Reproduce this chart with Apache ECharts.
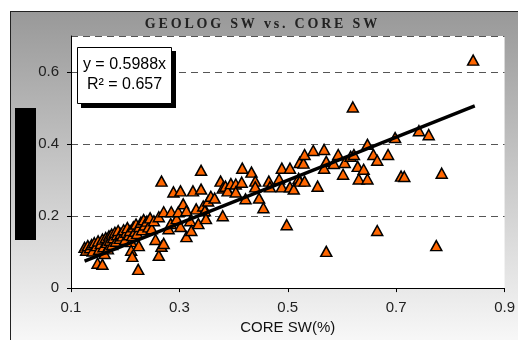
<!DOCTYPE html>
<html>
<head>
<meta charset="utf-8">
<script src="https://cdn.jsdelivr.net/npm/echarts@6/dist/echarts.min.js"></script>
<style>
html,body{margin:0;padding:0;background:#fff;overflow:hidden;}
#wrap{position:relative;width:518px;height:340px;overflow:hidden;background:#fff;}
#frame{position:absolute;left:10px;top:11px;width:540px;height:360px;border:1.5px solid #222;background:linear-gradient(to bottom,#999999 0px,#f8f8f8 330px);}
#chart{position:absolute;left:0;top:0;width:518px;height:340px;}
</style>
</head>
<body>
<div id="wrap"><div id="frame"></div><div id="chart"></div></div>
<script>
// CORE SW (x) and GEOLOG SW (y)
var coreSW = [
0.125,0.128,0.131,0.135,0.138,0.140,0.143,0.147,0.149,0.150,0.152,0.155,0.158,0.158,0.160,0.162,0.164,0.166,0.168,0.170,
0.172,0.175,0.176,0.178,0.181,0.183,0.185,0.187,0.190,0.192,0.195,0.197,0.200,0.202,0.204,0.207,0.209,0.211,0.211,0.213,
0.213,0.215,0.218,0.220,0.222,0.224,0.225,0.226,0.229,0.231,0.234,0.236,0.240,0.243,0.246,0.249,0.253,0.256,0.262,0.267,
0.271,
0.262,0.267,0.271,0.280,0.284,0.285,0.289,0.295,0.298,0.302,0.302,0.307,0.313,0.313,0.320,0.322,0.325,0.331,0.335,0.340,
0.340,0.344,0.347,0.349,0.353,0.358,0.365,0.376,0.380,0.380,0.385,0.389,0.395,
0.404,0.404,0.415,0.416,0.422,0.433,0.440,0.440,0.447,0.455,0.465,0.467,0.484,0.489,0.489,0.498,0.504,0.504,0.511,
0.520,0.522,0.522,0.529,0.531,0.531,0.547,0.555,0.567,0.567,0.571,0.571,0.585,0.593,0.602,0.605,0.616,0.622,0.620,0.629,
0.631,0.640,0.647,0.647,0.658,0.665,0.665,0.685,0.698,0.709,0.715,0.742,0.760,0.774,0.784,0.842
];
var geologSW = [
0.113,0.105,0.118,0.112,0.121,0.103,0.126,0.118,0.069,0.131,0.108,0.124,0.066,0.136,0.115,0.096,0.140,0.127,0.109,0.145,
0.133,0.150,0.121,0.140,0.155,0.130,0.148,0.160,0.138,0.152,0.145,0.162,0.135,0.155,0.168,0.148,0.160,0.129,0.105,0.088,
0.146,0.170,0.158,0.178,0.152,0.052,0.118,0.171,0.183,0.162,0.190,0.175,0.186,0.170,0.195,0.165,0.187,0.135,0.091,0.116,
0.124,
0.198,0.297,0.212,0.165,0.179,0.212,0.267,0.193,0.212,0.270,0.171,0.234,0.215,0.143,0.187,0.160,0.270,0.220,0.179,0.327,
0.275,0.228,0.215,0.193,0.242,0.255,0.250,0.297,0.278,0.201,0.283,0.270,0.290,
0.289,0.267,0.294,0.333,0.248,0.322,0.297,0.281,0.250,0.223,0.297,0.281,0.303,0.333,0.281,0.176,0.333,0.281,0.275,
0.305,0.349,0.297,0.347,0.371,0.297,0.382,0.283,0.385,0.333,0.352,0.102,0.346,0.371,0.316,0.349,0.366,0.371,0.503,0.338,
0.303,0.330,0.399,0.303,0.371,0.355,0.160,0.371,0.418,0.311,0.310,0.437,0.426,0.118,0.319,0.633
];
// Linear trendline y = 0.5988x, endpoints
var trendX = [0.125, 0.845];
var trendY = [0.075, 0.506];
var xTicks = [0.1, 0.3, 0.5, 0.7, 0.9];
var yTicks = [0, 0.2, 0.4, 0.6];
var titleText = 'GEOLOG SW vs. CORE SW';
var eqLine1 = 'y = 0.5988x';
var eqLine2 = 'R² = 0.657';
var xName = 'CORE SW(%)';

function spaced(s){ return s.split('').join('\u2009'); }

var pts = coreSW.map(function(x,i){ return [x, geologSW[i]]; });
var trend = trendX.map(function(x,i){ return [x, trendY[i]]; });

var chart = echarts.init(document.getElementById('chart'), null, {renderer:'canvas'});
chart.setOption({
  animation:false,
  backgroundColor:'transparent',
  grid:{left:71,right:9,top:36,bottom:50,show:true,backgroundColor:'#fff',borderWidth:0},
  xAxis:{
    type:'value',min:0.1,max:0.9,interval:0.2,
    name:xName,nameLocation:'middle',nameGap:25,
    nameTextStyle:{fontFamily:'Liberation Sans, Arial',fontSize:15,color:'#111'},
    axisLine:{show:true,onZero:false,lineStyle:{color:'#000',width:1}},
    axisTick:{show:true,length:4,lineStyle:{color:'#000'}},
    axisLabel:{margin:12,fontFamily:'Liberation Sans, Arial',fontSize:15,color:'#222',
      formatter:function(v){ return String(+v.toFixed(1)); }},
    splitLine:{show:false}
  },
  yAxis:{
    type:'value',min:0,max:0.7,interval:0.2,
    axisLine:{show:true,lineStyle:{color:'#000',width:1}},
    axisTick:{show:true,length:4,lineStyle:{color:'#000'}},
    axisLabel:{margin:12,fontFamily:'Liberation Sans, Arial',fontSize:15,color:'#222',showMaxLabel:false,
      formatter:function(v){ var r=+v.toFixed(1); return yTicks.indexOf(r)>=0 ? String(r) : ''; }},
    splitLine:{show:true,lineStyle:{color:'#555',width:1,type:[7,5]}}
  },
  series:[
    {type:'scatter',data:pts,symbol:'triangle',symbolSize:[11,10],z:2,
     itemStyle:{color:'#FF6600',borderColor:'#000',borderWidth:1.5,opacity:1}},
    {type:'line',data:trend,symbol:'none',z:5,lineStyle:{color:'#000',width:3.4},silent:true}
  ],
  graphic:[
    {type:'rect',z:100,shape:{x:15,y:108,width:21,height:132},style:{fill:'#000'}},
    {type:'text',z:100,x:261,y:24,style:{text:spaced(titleText),font:'bold 14px "Liberation Serif", "Times New Roman", serif',fill:'#222',textAlign:'center',textVerticalAlign:'middle'}},
    {type:'rect',z:100,shape:{x:81,y:51,width:95,height:57},style:{fill:'#000'}},
    {type:'rect',z:101,shape:{x:77.5,y:47.5,width:94,height:56},style:{fill:'#fff',stroke:'#000',lineWidth:1}},
    {type:'text',z:102,x:124.5,y:65,style:{text:eqLine1,font:'16px "Liberation Sans", Arial, sans-serif',fill:'#000',textAlign:'center',textVerticalAlign:'middle'}},
    {type:'text',z:102,x:124.5,y:85,style:{text:eqLine2,font:'16px "Liberation Sans", Arial, sans-serif',fill:'#000',textAlign:'center',textVerticalAlign:'middle'}}
  ]
});
</script>
</body>
</html>
